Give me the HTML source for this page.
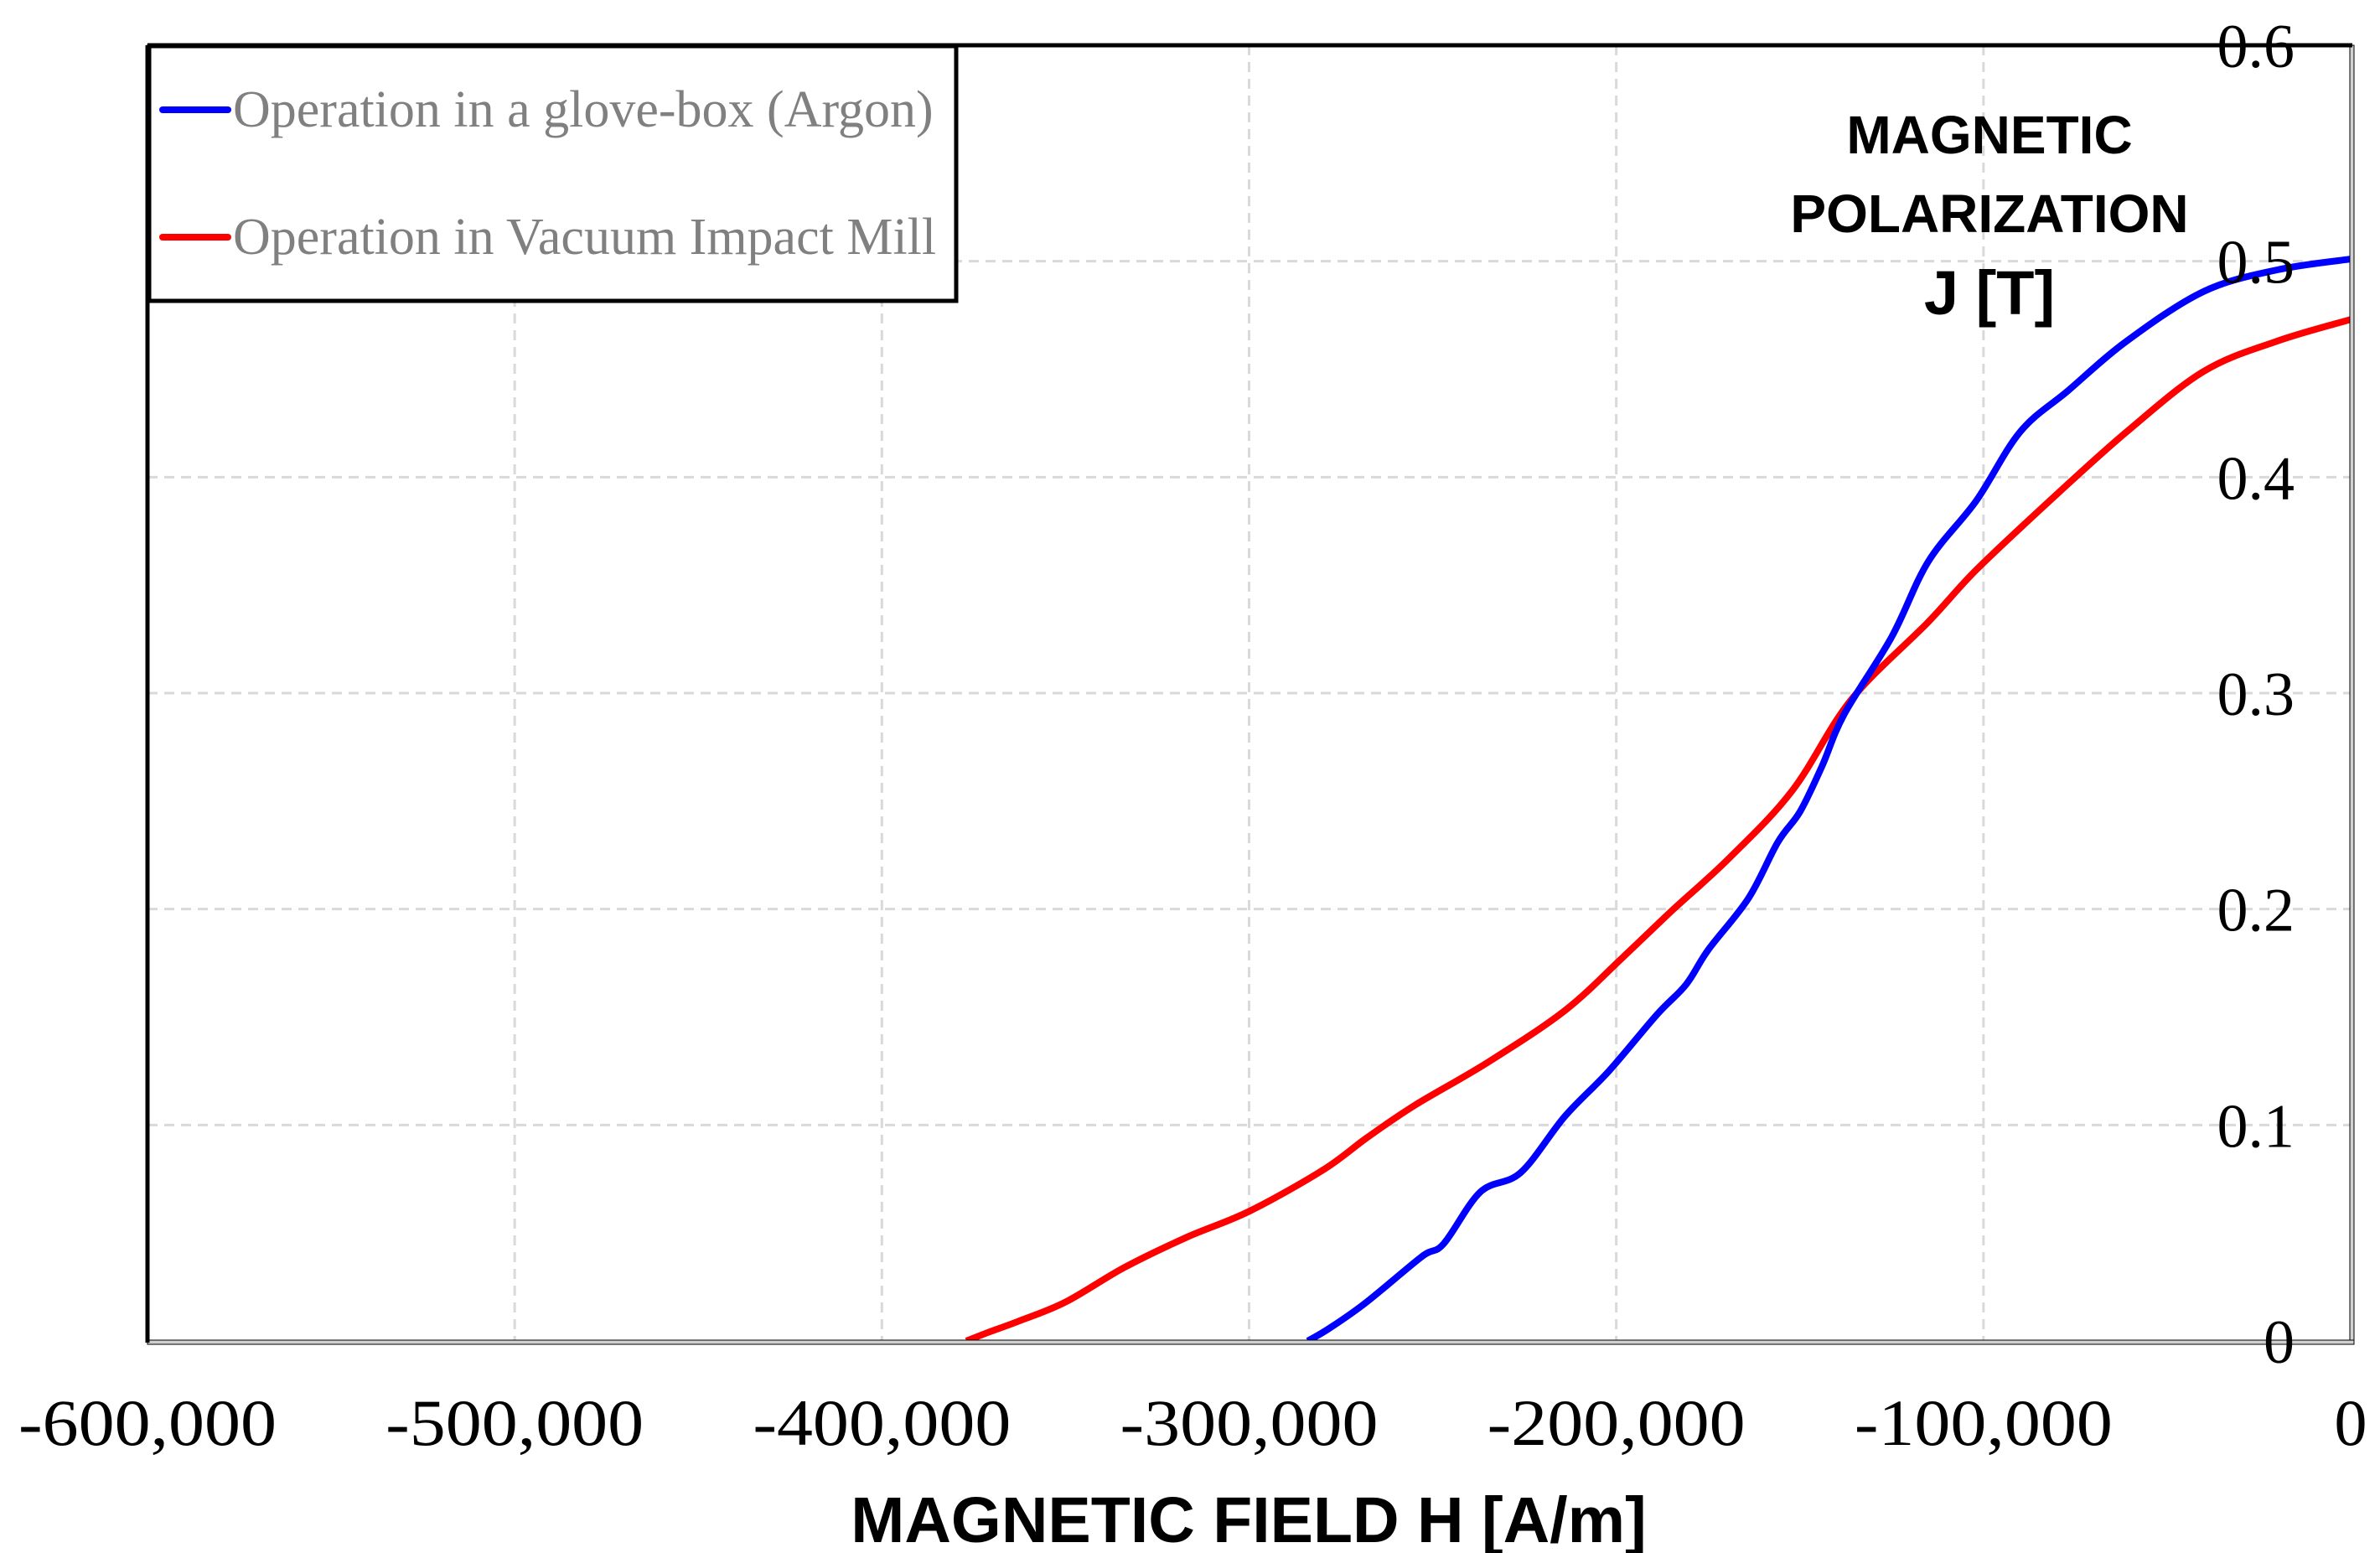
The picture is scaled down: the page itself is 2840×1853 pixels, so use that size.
<!DOCTYPE html>
<html><head><meta charset="utf-8"><style>html,body{margin:0;padding:0;background:#fff;}svg{display:block;}</style></head>
<body>
<svg id="chart" width="2840" height="1853" viewBox="0 0 2840 1853" xmlns="http://www.w3.org/2000/svg">
<g id="grid"></g>
<g id="series"></g>
<g id="frame"></g>
<g id="yticks"></g>
<g id="xticks"></g>
<text x="1490" y="1840" text-anchor="middle" font-family="Liberation Sans, sans-serif" font-weight="bold" font-size="77">MAGNETIC FIELD H [A/m]</text>
<g font-family="Liberation Sans, sans-serif" font-weight="bold" text-anchor="middle">
<text x="2374" y="183" font-size="64">MAGNETIC</text>
<text x="2374" y="277" font-size="64">POLARIZATION</text>
<text x="2374" y="375" font-size="74">J [T]</text>
</g>
<g>
<rect x="178" y="55" width="963" height="304" fill="#fff" stroke="#000" stroke-width="5"/>
<line x1="194" y1="131" x2="272" y2="131" stroke="#0000ff" stroke-width="8" stroke-linecap="round"/>
<text x="278" y="151" font-family="Liberation Serif, serif" font-size="62" fill="#808080">Operation in a glove-box (Argon)</text>
<line x1="194" y1="283" x2="272" y2="283" stroke="#ff0000" stroke-width="8" stroke-linecap="round"/>
<text x="278" y="303" font-family="Liberation Serif, serif" font-size="62" fill="#808080">Operation in Vacuum Impact Mill</text>
</g>
</svg>
<script>
const xTicks = [-600000,-500000,-400000,-300000,-200000,-100000,0];
const xTickLabels = ["-600,000","-500,000","-400,000","-300,000","-200,000","-100,000","0"];
const yTicks = [0,0.1,0.2,0.3,0.4,0.5,0.6];
const yTickLabels = ["0","0.1","0.2","0.3","0.4","0.5","0.6"];
const argonH = [-284000,-278000,-268000,-253000,-247000,-237000,-226000,-214000,-202000,-189000,-181000,-175000,-164000,-156000,-150000,-144000,-138000,-125000,-115000,-102000,-90000,-77000,-61000,-40000,-20000,0];
const argonJ = [0,0.006,0.018,0.039,0.045,0.069,0.078,0.104,0.125,0.151,0.165,0.181,0.205,0.231,0.245,0.266,0.29,0.326,0.361,0.389,0.421,0.44,0.463,0.486,0.496,0.501];
const vacuumH = [-377000,-371000,-363000,-350000,-334000,-317000,-300000,-280000,-268000,-255000,-235000,-214000,-198000,-185000,-169000,-152000,-136000,-115000,-102000,-82000,-61000,-40000,-20000,0];
const vacuumJ = [0,0.004,0.009,0.018,0.034,0.048,0.06,0.079,0.094,0.109,0.129,0.153,0.178,0.199,0.224,0.255,0.297,0.333,0.357,0.389,0.421,0.449,0.463,0.473];

const NS="http://www.w3.org/2000/svg";
const L=176,R=2805,T=54,B=1600;
const xs=v=>L+(v+600000)/600000*(R-L);
const ys=v=>B-v/0.6*(B-T);
function mk(tag,parent,attrs){const e=document.createElementNS(NS,tag);for(const k in attrs)e.setAttribute(k,attrs[k]);parent.appendChild(e);return e;}
const grid=document.getElementById('grid');
xTicks.forEach((v,i)=>{ if(i===0||i===xTicks.length-1) return;
  const l=mk('line',grid,{x1:xs(v),x2:xs(v),y1:T,y2:B,stroke:'#d9d9d9','stroke-width':3,'stroke-dasharray':'12 8'});
  
  
});
yTicks.forEach((v,i)=>{ if(i===0||i===yTicks.length-1) return;
  const l=mk('line',grid,{x1:L,x2:R,y1:ys(v),y2:ys(v),stroke:'#d9d9d9','stroke-width':3,'stroke-dasharray':'12 8'});
  
  
});
const ser=document.getElementById('series');
function drawLine(H,J,color,name){
  const P=H.map((h,i)=>[xs(h),ys(J[i])]);
  let d='M'+P[0][0].toFixed(1)+','+P[0][1].toFixed(1);
  for(let i=0;i<P.length-1;i++){
    const p0=P[i-1]||P[i],p1=P[i],p2=P[i+1],p3=P[i+2]||P[i+1];
    const c1=[p1[0]+(p2[0]-p0[0])/6,p1[1]+(p2[1]-p0[1])/6];
    const c2=[p2[0]-(p3[0]-p1[0])/6,p2[1]-(p3[1]-p1[1])/6];
    d+=' C'+c1[0].toFixed(1)+','+c1[1].toFixed(1)+' '+c2[0].toFixed(1)+','+c2[1].toFixed(1)+' '+p2[0].toFixed(1)+','+p2[1].toFixed(1);
  }
  const p=mk('path',ser,{d:d,fill:'none',stroke:color,'stroke-width':8,'stroke-linejoin':'round'});
  
  
}
drawLine(vacuumH,vacuumJ,'#ff0000','vacuum-mill-curve');
drawLine(argonH,argonJ,'#0000ff','argon-glovebox-curve');
const fr=document.getElementById('frame');
const rr=mk('rect',fr,{x:R-1,y:T,width:5,height:B-T+4,fill:'#d0d0d0',stroke:'#000','stroke-width':1});


const bb=mk('rect',fr,{x:L,y:B-1,width:R-L+4,height:5,fill:'#d0d0d0',stroke:'#000','stroke-width':1});


const tl=mk('line',fr,{x1:L,x2:R+2,y1:T,y2:T,stroke:'#000','stroke-width':5});


const ll=mk('line',fr,{x1:L,x2:L,y1:T,y2:B+2,stroke:'#000','stroke-width':5});


const yt=document.getElementById('yticks');
yTicks.forEach((v,i)=>{
  const t=mk('text',yt,{x:2738,y:ys(v)+26,'text-anchor':'end','font-family':'Liberation Serif, serif','font-size':74});
  t.textContent=yTickLabels[i];
  
  
});
const xt=document.getElementById('xticks');
xTicks.forEach((v,i)=>{
  const attrs={x:xs(v),y:1724,'text-anchor':'middle','font-family':'Liberation Serif, serif','font-size':78};
  if(xTickLabels[i].length>3){attrs.textLength=308;attrs.lengthAdjust='spacingAndGlyphs';}
  const t=mk('text',xt,attrs);
  t.textContent=xTickLabels[i];
  
  
});
</script>
</body></html>
